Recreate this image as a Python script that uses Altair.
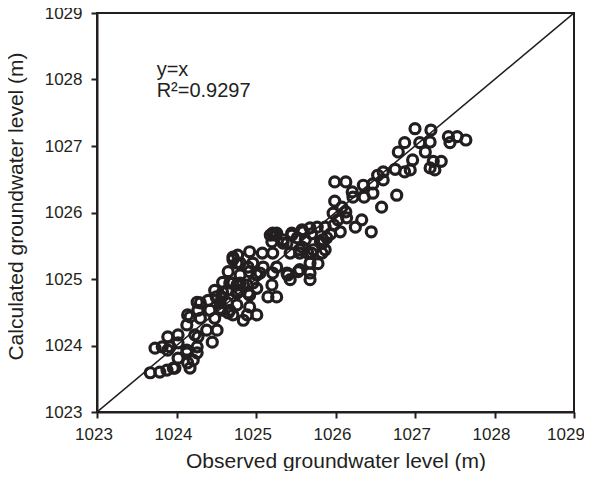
import altair as alt
import pandas as pd

# Observed (x) and calculated (y) groundwater levels
observed = [
    1027.00, 1027.20, 1027.42, 1027.53, 1027.64, 1027.44, 1026.87, 1027.06, 1027.19, 1026.79,
    1027.13, 1026.97, 1027.23, 1027.33, 1026.75, 1026.94, 1027.19, 1027.25, 1026.60, 1026.53,
    1026.60, 1026.77, 1025.99, 1026.13, 1026.35, 1026.47, 1026.47, 1026.36, 1026.21, 1026.22,
    1026.58, 1025.99, 1026.08, 1026.13, 1025.97, 1026.14, 1026.33, 1026.25, 1026.45, 1026.03,
    1025.87, 1025.98, 1025.77, 1025.68, 1025.58, 1025.45, 1025.21, 1025.20, 1025.34, 1025.52,
    1025.81, 1025.89, 1025.94, 1026.06, 1025.58, 1025.70, 1025.83, 1025.68, 1025.78, 1025.55,
    1025.68, 1025.43, 1025.21, 1025.08, 1024.92, 1024.77, 1024.76, 1024.90, 1025.09, 1025.26,
    1024.80, 1025.01, 1025.21, 1025.40, 1024.80, 1024.96, 1025.20, 1025.15, 1025.26, 1024.92,
    1024.76, 1025.62, 1025.72, 1025.70, 1025.26, 1025.18, 1025.55, 1024.71, 1024.96, 1025.68,
    1025.43, 1024.92, 1025.05, 1024.58, 1024.71, 1024.89, 1024.64, 1024.80, 1025.01, 1024.57,
    1024.40, 1024.26, 1024.27, 1024.42, 1024.57, 1024.76, 1024.92, 1024.71, 1024.89, 1024.50,
    1024.55, 1024.67, 1024.14, 1024.30, 1024.48, 1024.13, 1024.02, 1024.27, 1024.38, 1024.45,
    1023.89, 1023.73, 1023.89, 1024.13, 1024.26, 1024.02, 1024.21, 1023.96, 1024.17, 1023.67,
    1023.79, 1023.88, 1024.65, 1024.48, 1024.64, 1025.01, 1024.84, 1024.51, 1024.02, 1024.26,
    1024.14, 1023.82, 1025.84, 1025.87, 1025.55, 1025.39, 1025.65, 1026.87, 1025.59, 1025.45,
    1025.84, 1024.80, 1025.39, 1025.53, 1024.67, 1024.58, 1024.77, 1024.90, 1024.30, 1025.24,
    1025.34, 1024.71, 1024.76, 1024.55, 1024.65, 1024.17, 1024.23, 1023.92, 1024.13, 1023.98,
]
calculated = [
    1027.26, 1027.24, 1027.14, 1027.14, 1027.09, 1027.05, 1027.05, 1027.05, 1027.06, 1026.91,
    1026.91, 1026.79, 1026.77, 1026.77, 1026.65, 1026.64, 1026.67, 1026.64, 1026.61, 1026.56,
    1026.49, 1026.26, 1026.46, 1026.46, 1026.41, 1026.43, 1026.29, 1026.23, 1026.31, 1026.23,
    1026.08, 1026.17, 1026.08, 1026.01, 1025.99, 1025.92, 1025.89, 1025.78, 1025.71, 1025.89,
    1025.78, 1025.81, 1025.78, 1025.77, 1025.74, 1025.66, 1025.69, 1025.56, 1025.54, 1025.62,
    1025.56, 1025.62, 1025.68, 1025.71, 1025.48, 1025.39, 1025.39, 1025.24, 1025.23, 1025.14,
    1025.09, 1025.39, 1025.39, 1025.39, 1025.41, 1025.36, 1025.24, 1025.18, 1025.18, 1025.18,
    1025.06, 1025.06, 1025.09, 1025.06, 1024.94, 1024.94, 1024.91, 1024.73, 1024.73, 1024.76,
    1024.79, 1025.59, 1025.44, 1025.68, 1025.69, 1025.66, 1025.39, 1025.29, 1025.24, 1024.99,
    1024.99, 1025.11, 1025.09, 1024.95, 1024.94, 1024.91, 1024.83, 1024.83, 1024.86, 1024.73,
    1024.68, 1024.65, 1024.53, 1024.53, 1024.53, 1024.61, 1024.58, 1024.46, 1024.46, 1024.73,
    1024.64, 1024.53, 1024.46, 1024.41, 1024.41, 1024.31, 1024.16, 1024.13, 1024.23, 1024.05,
    1024.13, 1023.96, 1023.93, 1023.93, 1023.98, 1023.81, 1023.78, 1023.66, 1023.66, 1023.59,
    1023.60, 1023.63, 1025.11, 1024.83, 1024.64, 1024.46, 1024.38, 1024.23, 1024.04, 1023.89,
    1023.74, 1023.98, 1025.59, 1025.44, 1025.44, 1025.54, 1025.39, 1026.61, 1025.71, 1025.69,
    1025.54, 1025.24, 1025.09, 1025.11, 1024.94, 1024.80, 1024.80, 1024.79, 1024.64, 1025.66,
    1025.59, 1025.33, 1024.91, 1024.56, 1024.49, 1024.43, 1024.16, 1023.98, 1023.89, 1023.66,
]

axis_ticks = [1023, 1024, 1025, 1026, 1027, 1028, 1029]
line_x = [1023, 1029]
line_y = [1023, 1029]
ann_text = ["y=x", "R\u00b2=0.9297"]
ann_x = [1023.75, 1023.75]
ann_y = [1028.05, 1027.74]

INK = "#231f20"
FONT = "Liberation Sans"

pts = pd.DataFrame({"obs": observed, "calc": calculated})
ref = pd.DataFrame({"obs": line_x, "calc": line_y})
ann = pd.DataFrame({"obs": ann_x, "calc": ann_y, "label": ann_text})

xscale = alt.Scale(domain=[1023, 1029], nice=False, zero=False)
yscale = alt.Scale(domain=[1023, 1029], nice=False, zero=False)

xaxis = alt.Axis(
    title="Observed groundwater level (m)", values=axis_ticks, format="d",
    titlePadding=8, labelFlush=False, labelPadding=8,
    labelOffset=alt.ExprRef("datum.value == 1029 ? -8.5 : -3.5"),
)
yaxis = alt.Axis(
    title="Calculated groundwater level (m)", values=axis_ticks, format="d",
    titlePadding=18, titleY=193, labelPadding=9,
)

line = alt.Chart(ref).mark_line(color=INK, strokeWidth=1.6, clip=True).encode(
    x=alt.X("obs:Q", scale=xscale, axis=xaxis),
    y=alt.Y("calc:Q", scale=yscale, axis=yaxis),
)

points = alt.Chart(pts).mark_point(
    shape="circle", filled=False, color=INK, size=100, strokeWidth=3.2, opacity=1
).encode(
    x=alt.X("obs:Q", scale=xscale, axis=xaxis),
    y=alt.Y("calc:Q", scale=yscale, axis=yaxis),
)

text = alt.Chart(ann).mark_text(
    align="left", baseline="alphabetic", font=FONT, fontSize=20, color=INK
).encode(
    x=alt.X("obs:Q", scale=xscale, axis=xaxis),
    y=alt.Y("calc:Q", scale=yscale, axis=yaxis),
    text="label:N",
)

chart = alt.layer(line, points, text).properties(
    width=477,
    height=399,
    autosize=alt.AutoSizeParams(type="none"),
    padding={"left": 89, "top": 5, "right": 10, "bottom": 59},
    background="white",
).configure_view(
    stroke=INK, strokeWidth=2
).configure_axis(
    grid=False,
    domainColor=INK, domainWidth=2,
    tickColor=INK, tickWidth=2, tickSize=6,
    labelFont=FONT, labelFontSize=17, labelColor=INK,
    titleFont=FONT, titleFontSize=21, titleFontWeight="normal", titleColor=INK,
)

chart.save("out.html", embed_options={"renderer": "svg", "actions": False})
